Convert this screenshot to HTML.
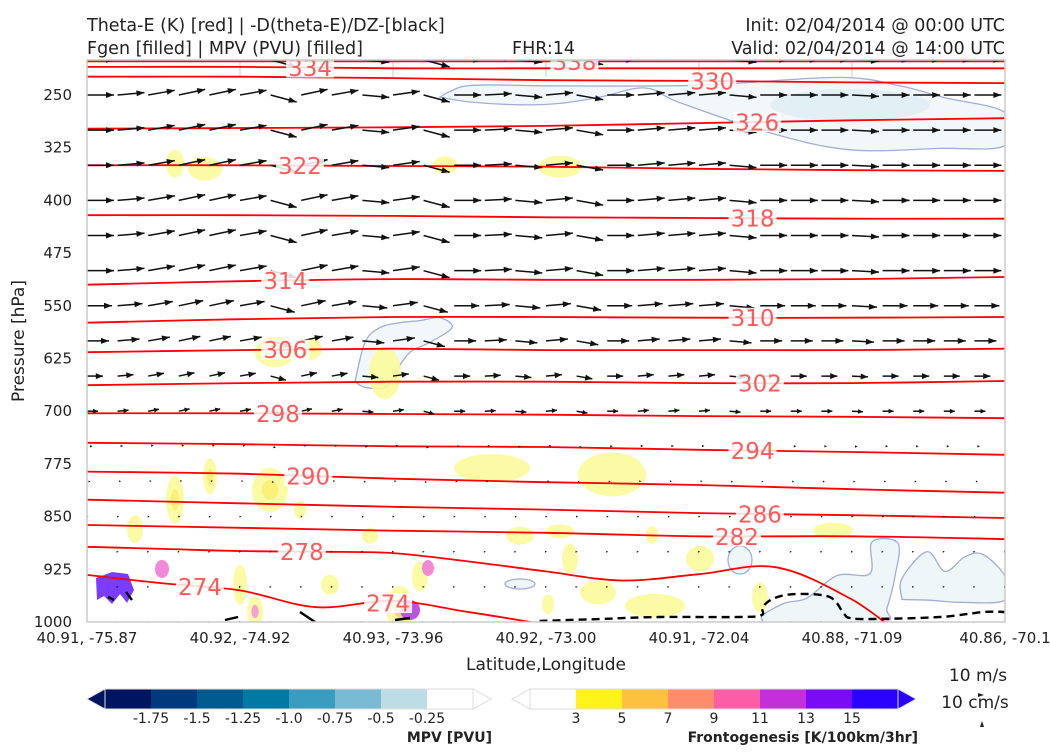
<!DOCTYPE html>
<html><head><meta charset="utf-8"><style>
html,body{margin:0;padding:0;background:#fff;}
body{width:1050px;height:750px;overflow:hidden;font-family:"DejaVu Sans","Liberation Sans",sans-serif;}
svg text{font-family:"DejaVu Sans","Liberation Sans",sans-serif;}
</style></head><body>
<svg id="chart" width="1050" height="750" viewBox="0 0 1050 750" xmlns="http://www.w3.org/2000/svg">
<defs><clipPath id="plotclip"><rect x="87" y="60" width="918" height="562"/></clipPath></defs>
<g font-size="17.5" fill="#222">
<text x="87" y="31">Theta-E (K) [red] | -D(theta-E)/DZ-[black]</text>
<text x="87" y="54">Fgen [filled] | MPV (PVU) [filled]</text>
<text x="512" y="54">FHR:14</text>
<text x="1005" y="31" text-anchor="end">Init: 02/04/2014 @ 00:00 UTC</text>
<text x="1005" y="54" text-anchor="end">Valid: 02/04/2014 @ 14:00 UTC</text>
</g>
<g id="plot" clip-path="url(#plotclip)"></g>
<rect x="87" y="60" width="918" height="562" fill="none" stroke="#ccc" stroke-width="1.5"/>
<g id="axes" font-size="15" fill="#222"></g>
<text x="24" y="341" font-size="17" fill="#222" text-anchor="middle" transform="rotate(-90 24 341)">Pressure [hPa]</text>
<text x="546" y="670" font-size="17" fill="#222" text-anchor="middle">Latitude,Longitude</text>
<g id="cbars"></g>
<g fill="#222">
<text x="978" y="681" font-size="17" text-anchor="middle">10 m/s</text>
<path d="M978 693 L984 695 L978 697 Z"/>
<text x="975" y="708" font-size="17" text-anchor="middle">10 cm/s</text>
<path d="M980 727 L982 721 L984 727 Z"/>
</g>
</svg>
<script>
// ---- data ----
const pressureTicks = [250,325,400,475,550,625,700,775,850,925,1000];
const xTickLabels = ["40.91, -75.87","40.92, -74.92","40.93, -73.96","40.92, -73.00","40.91, -72.04","40.88, -71.09","40.86, -70.1"];
const contourValues = [338,334,330,326,322,318,314,310,306,302,298,294,290,286,282];
const c338 = [202,202,202,202,202,202,202];
const c334 = [210,210,212,212,212,212,212];
const c330 = [224,224,226,229,230,232,233];
const c326 = [298,297,296,294,290,286,283];
const c322 = [350,350,351,352,355,357,358];
const c318 = [421,421,422,424,425,426,426];
const c314 = [520,515,512,513,513,512,509];
const c310 = [574,569,566,566,567,567,566];
const c306 = [616,613,611,613,613,613,611];
const c302 = [663,660,658,658,660,660,657];
const c298 = [703,703,704,705,707,708,710];
const c294 = [745,747,750,751,755,758,762];
const c290 = [786,789,796,801,805,811,816];
const c286 = [826,831,836,840,845,848,852];
const c282 = [862,866,870,873,878,878,882];
const c278 = [893,896,899,900,902,914,928,941,932,922,968,1039,1039];
const c274 = [933,945,955,979,970,986,1004,1025,1025,1025,1025,1025,1025];
const contourLabelVal = [338,334,330,326,322,318,314,310,306,302,298,294,290,286,282,278,274,274];
const contourLabelFrac = [0.531,0.243,0.681,0.73,0.232,0.725,0.216,0.725,0.216,0.733,0.208,0.725,0.241,0.733,0.708,0.234,0.123,0.328];
const dashFrac = [0.493,0.559,0.624,0.711,0.735,0.736,0.749,0.773,0.809,0.824,0.831,0.856,0.929,0.976,1.0];
const dashP = [998.6,995.7,992.9,992.9,990,978.6,965.8,960.1,964.4,987.2,994.3,995.7,992.9,985.8,985.8];
const windLevels = [200,250,300,350,400,450,500,550,600,650,700,750,800,850,900,950,1000];
const windSpeed = [54,54,54,54,54,54,54,50,44,32,22,11,7,3,2,2,2];
const windTilt = [0,5,10,12,12,10,-15,12,10,-5,8,-15,0,3,-5,5,-10,0,5,5,5,-5,0,0,0,-3,0,0,0,0,0];
const fgenX = [175,205,445,560,275,310,385,210,175,270,300,492,612,135,370,520,560,652,700,833,570,655,330,240,420,400,598,760,255,548];
const fgenP = [348,355,350,352,616,612,646,793,826,812,840,781,790,868,877,877,871,876,910,870,910,977,947,947,935,980,958,965,985,975];
const fgenRx = [9,17,12,22,20,12,16,7,9,18,6,38,34,8,8,14,14,6,14,20,8,30,9,7,8,14,18,8,8,6];
const fgenRy = [14,12,9,11,15,11,26,18,24,22,9,14,22,14,8,9,7,9,13,8,15,12,10,20,15,22,12,15,15,10];
const fgenLevel = [0,0,0,0,0,0,0,1,1,1,0,0,0,0,0,0,0,0,0,0,0,0,0,0,0,2,0,0,3,0];
const mpvTopX = [440,450,475,560,700,838,900,945,1005,1005,940,850,770,680,645,600,560,520,470];
const mpvTopP = [253,245,236,237,236,225,237,254,275,322,326,328,304,261,240,253,262,264,260];
const mpvMidX = [355,365,380,400,420,440,452,430,410,395,385,365];
const mpvMidP = [658,602,581,574,571,567,581,602,616,645,666,666];
const mpvLowX = [763,763,785,807,837,870,872,898,895,887,880];
const mpvLowP = [1000,990,973,966,934,931,886,888,935,980,1000];
const mpvRightX = [902,902,927,945,965,983,1005,1005,960,930];
const mpvRightP = [968,938,900,928,907,904,935,969,972,969];
const mpvColors = ["#00155f","#003a7d","#005a8e","#007aa3","#3a9cbf","#7bbad4","#bcdde6","#ffffff"];
const mpvLabels = ["-1.75","-1.5","-1.25","-1.0","-0.75","-0.5","-0.25"];
const fgenColors = ["#ffffff","#fff31a","#fdc140","#ff8c6a","#fb5ea6","#c32fd8","#7a0cf5","#2a00ff"];
const fgenLabels = ["3","5","7","9","11","13","15"];

// ---- scales ----
const X0=87, X1=1005, Y0=95, PX=0.70267;
const yS = p => Y0 + (p-250)*PX;
const xF = f => X0 + f*(X1-X0);
const NS="http://www.w3.org/2000/svg";
function mk(tag, attrs, parent){const e=document.createElementNS(NS,tag);for(const k in attrs)e.setAttribute(k,attrs[k]);parent.appendChild(e);return e;}
function smooth(pts){let d="M"+pts[0][0].toFixed(1)+" "+pts[0][1].toFixed(1);
 for(let i=0;i<pts.length-1;i++){const p0=pts[Math.max(0,i-1)],p1=pts[i],p2=pts[i+1],p3=pts[Math.min(pts.length-1,i+2)];
  const c1=[p1[0]+(p2[0]-p0[0])/6,p1[1]+(p2[1]-p0[1])/6],c2=[p2[0]-(p3[0]-p1[0])/6,p2[1]-(p3[1]-p1[1])/6];
  d+=" C"+c1.map(v=>v.toFixed(1)).join(" ")+" "+c2.map(v=>v.toFixed(1)).join(" ")+" "+p2[0].toFixed(1)+" "+p2[1].toFixed(1);}
 return d;}
function linePts(arr){return arr.map((p,i)=>[xF(i/(arr.length-1)),yS(p)]);}
function interpY(arr,f){const n=arr.length-1,t=f*n,i=Math.min(n-1,Math.floor(t)),r=t-i;return yS(arr[i]*(1-r)+arr[i+1]*r);}

const plot=document.getElementById('plot');
mk('rect',{x:87,y:60,width:918,height:562,fill:'#fff'},plot);
[240,393,546,699,852].forEach(x=>{const g=mk('line',{x1:x,y1:60,x2:x,y2:77,stroke:'#ccc','stroke-width':1},plot);

});

function poly(xs,ps,fill,stroke,name){const e=mk('path',{d:smooth(xs.map((x,i)=>[x,yS(ps[i])]).concat([[xs[0],yS(ps[0])]]))+'Z',fill:fill,stroke:stroke,'stroke-width':1.3},plot);

}
poly(mpvTopX,mpvTopP,'#f2f8fa','#a3aed2','mpv-region-upper');
const inner=mk('ellipse',{cx:850,cy:105,rx:80,ry:16,fill:'#e2eff4'},plot);


poly(mpvMidX,mpvMidP,'#f2f8fa','#a3aed2','mpv-region-mid');
poly(mpvLowX,mpvLowP,'#eef6f8','#a3aed2','mpv-region-lower');
poly(mpvRightX,mpvRightP,'#eef6f8','#a3aed2','mpv-region-right');
const sm=mk('ellipse',{cx:740,cy:560,rx:12,ry:14,fill:'#eef6f8',stroke:'#a3aed2','stroke-width':1.3},plot);


const sm2=mk('ellipse',{cx:520,cy:584,rx:15,ry:5,fill:'#eef6f8',stroke:'#a3aed2','stroke-width':1.3},plot);



const fgenFill=['#fbfb9c','#fbf07a','#fdd27a','#f7a0d8'];
fgenX.forEach((x,i)=>{const e=mk('ellipse',{cx:x,cy:yS(fgenP[i]),rx:fgenRx[i],ry:fgenRy[i],fill:'#fbfb9c','fill-opacity':0.9},plot);


 if(fgenLevel[i]>0){const c=mk('ellipse',{cx:x,cy:yS(fgenP[i]),rx:fgenRx[i]*0.45,ry:fgenRy[i]*0.45,fill:fgenFill[fgenLevel[i]]},plot);
 
 }});
const hot=mk('path',{d:'M96 578 L112 572 L128 574 L134 590 L127 603 L120 594 L112 604 L104 596 L97 600 Z',fill:'#7a3cff'},plot);


const pk=mk('ellipse',{cx:162,cy:569,rx:7,ry:9,fill:'#f08ad8'},plot);


const pk2=mk('ellipse',{cx:428,cy:568,rx:6,ry:8,fill:'#f08ad8'},plot);


const pk3=mk('ellipse',{cx:410,cy:610,rx:10,ry:10,fill:'#c050e8'},plot);


const wm=mk('path',{d:'M87 605 L200 605 L200 622 L87 622 Z',fill:'#fff'},plot);



const allC=[c338,c334,c330,c326,c322,c318,c314,c310,c306,c302,c298,c294,c290,c286,c282,c278,c274];
const allV=contourValues.concat([278,274]);
allC.forEach((arr,k)=>{const e=mk('path',{d:smooth(linePts(arr)),fill:'none',stroke:'#ff0000','stroke-width':1.8},plot);

});

const dpts=dashFrac.map((f,i)=>[xF(f),yS(dashP[i])]);
const dl=mk('path',{d:smooth(dpts),fill:'none',stroke:'#000','stroke-width':2.4,'stroke-dasharray':'8 5'},plot);


const dl2=mk('path',{d:'M108 597 L114 600 M126 592 L132 600 M225 620 L238 617 M300 612 L315 622 M395 620 L410 618',fill:'none',stroke:'#000','stroke-width':2.4},plot);



windLevels.forEach((p,li)=>{const y=yS(p);const L=windSpeed[li]*0.5;
 for(let c=0;c<31;c++){const x=X0+c*(918/30);const a=(p>=850?0:windTilt[c])*Math.PI/180;
  const dx=Math.cos(a)*L,dy=-Math.sin(a)*L;const ex=x+dx,ey=y+dy;
  const g=mk('g',{},plot);
  
  
  if(L>6){mk('line',{x1:x,y1:y,x2:ex,y2:ey,stroke:'#111','stroke-width':1.5},g);}
  const h=Math.min(8,Math.max(2,L*0.45)),w=Math.min(3,Math.max(1,L*0.22));
  const ux=Math.cos(a),uy=-Math.sin(a);
  const bx=ex-ux*h,by=ey-uy*h;
  mk('path',{d:`M${ex.toFixed(1)} ${ey.toFixed(1)} L${(bx-uy*w).toFixed(1)} ${(by+ux*w).toFixed(1)} L${(bx+uy*w).toFixed(1)} ${(by-ux*w).toFixed(1)} Z`,fill:'#111'},g);}});

contourLabelVal.forEach((v,i)=>{let arr=allC[allV.indexOf(v)];if(i===17)arr=c274;
 const x=xF(contourLabelFrac[i]);let y=interpY(arr,contourLabelFrac[i]);if(i===17)y=603;
 const g=mk('g',{},plot);
 
 
 mk('rect',{x:x-24,y:y-10,width:48,height:20,fill:'#fff','fill-opacity':0.85},g);
 const t=mk('text',{x:x,y:y+8.5,'font-size':23,fill:'#ff5a5a','text-anchor':'middle'},g);t.textContent=v;});

const axes=document.getElementById('axes');
pressureTicks.forEach(p=>{const t=mk('text',{x:72,y:yS(p)+5,'text-anchor':'end'},axes);t.textContent=p;

});
xTickLabels.forEach((l,i)=>{const t=mk('text',{x:X0+i*153,y:643,'text-anchor':'middle'},axes);t.textContent=l;

});

const cb=document.getElementById('cbars');
function colorbar(x0,colors,labels,title,titleX,name){const g=mk('g',{},cb);
 
 
 const seg=46,top=689,bot=709,mid=699,body=x0+18;
 mk('path',{d:`M${x0} ${mid} L${body} ${top} L${body} ${bot} Z`,fill:colors[0],stroke:'#ddd'},g);
 colors.forEach((c,i)=>mk('rect',{x:body+i*seg,y:top,width:seg+0.5,height:20,fill:c},g));
 const end=body+colors.length*seg;
 mk('path',{d:`M${end} ${top} L${end+18} ${mid} L${end} ${bot} Z`,fill:colors[colors.length-1],stroke:'#ddd'},g);
 mk('rect',{x:body,y:top,width:colors.length*seg,height:20,fill:'none',stroke:'#ddd'},g);
 labels.forEach((l,i)=>{const t=mk('text',{x:body+(i+1)*seg,y:723,'font-size':14,fill:'#222','text-anchor':'middle'},g);t.textContent=l;});
 const t=mk('text',{x:titleX,y:742,'font-size':14,'font-weight':'bold',fill:'#222','text-anchor':'end'},g);t.textContent=title;}
colorbar(87,mpvColors,mpvLabels,'MPV [PVU]',492,'mpv-colorbar');
colorbar(512,fgenColors,fgenLabels,'Frontogenesis [K/100km/3hr]',918,'fgen-colorbar');
</script>
</body></html>
